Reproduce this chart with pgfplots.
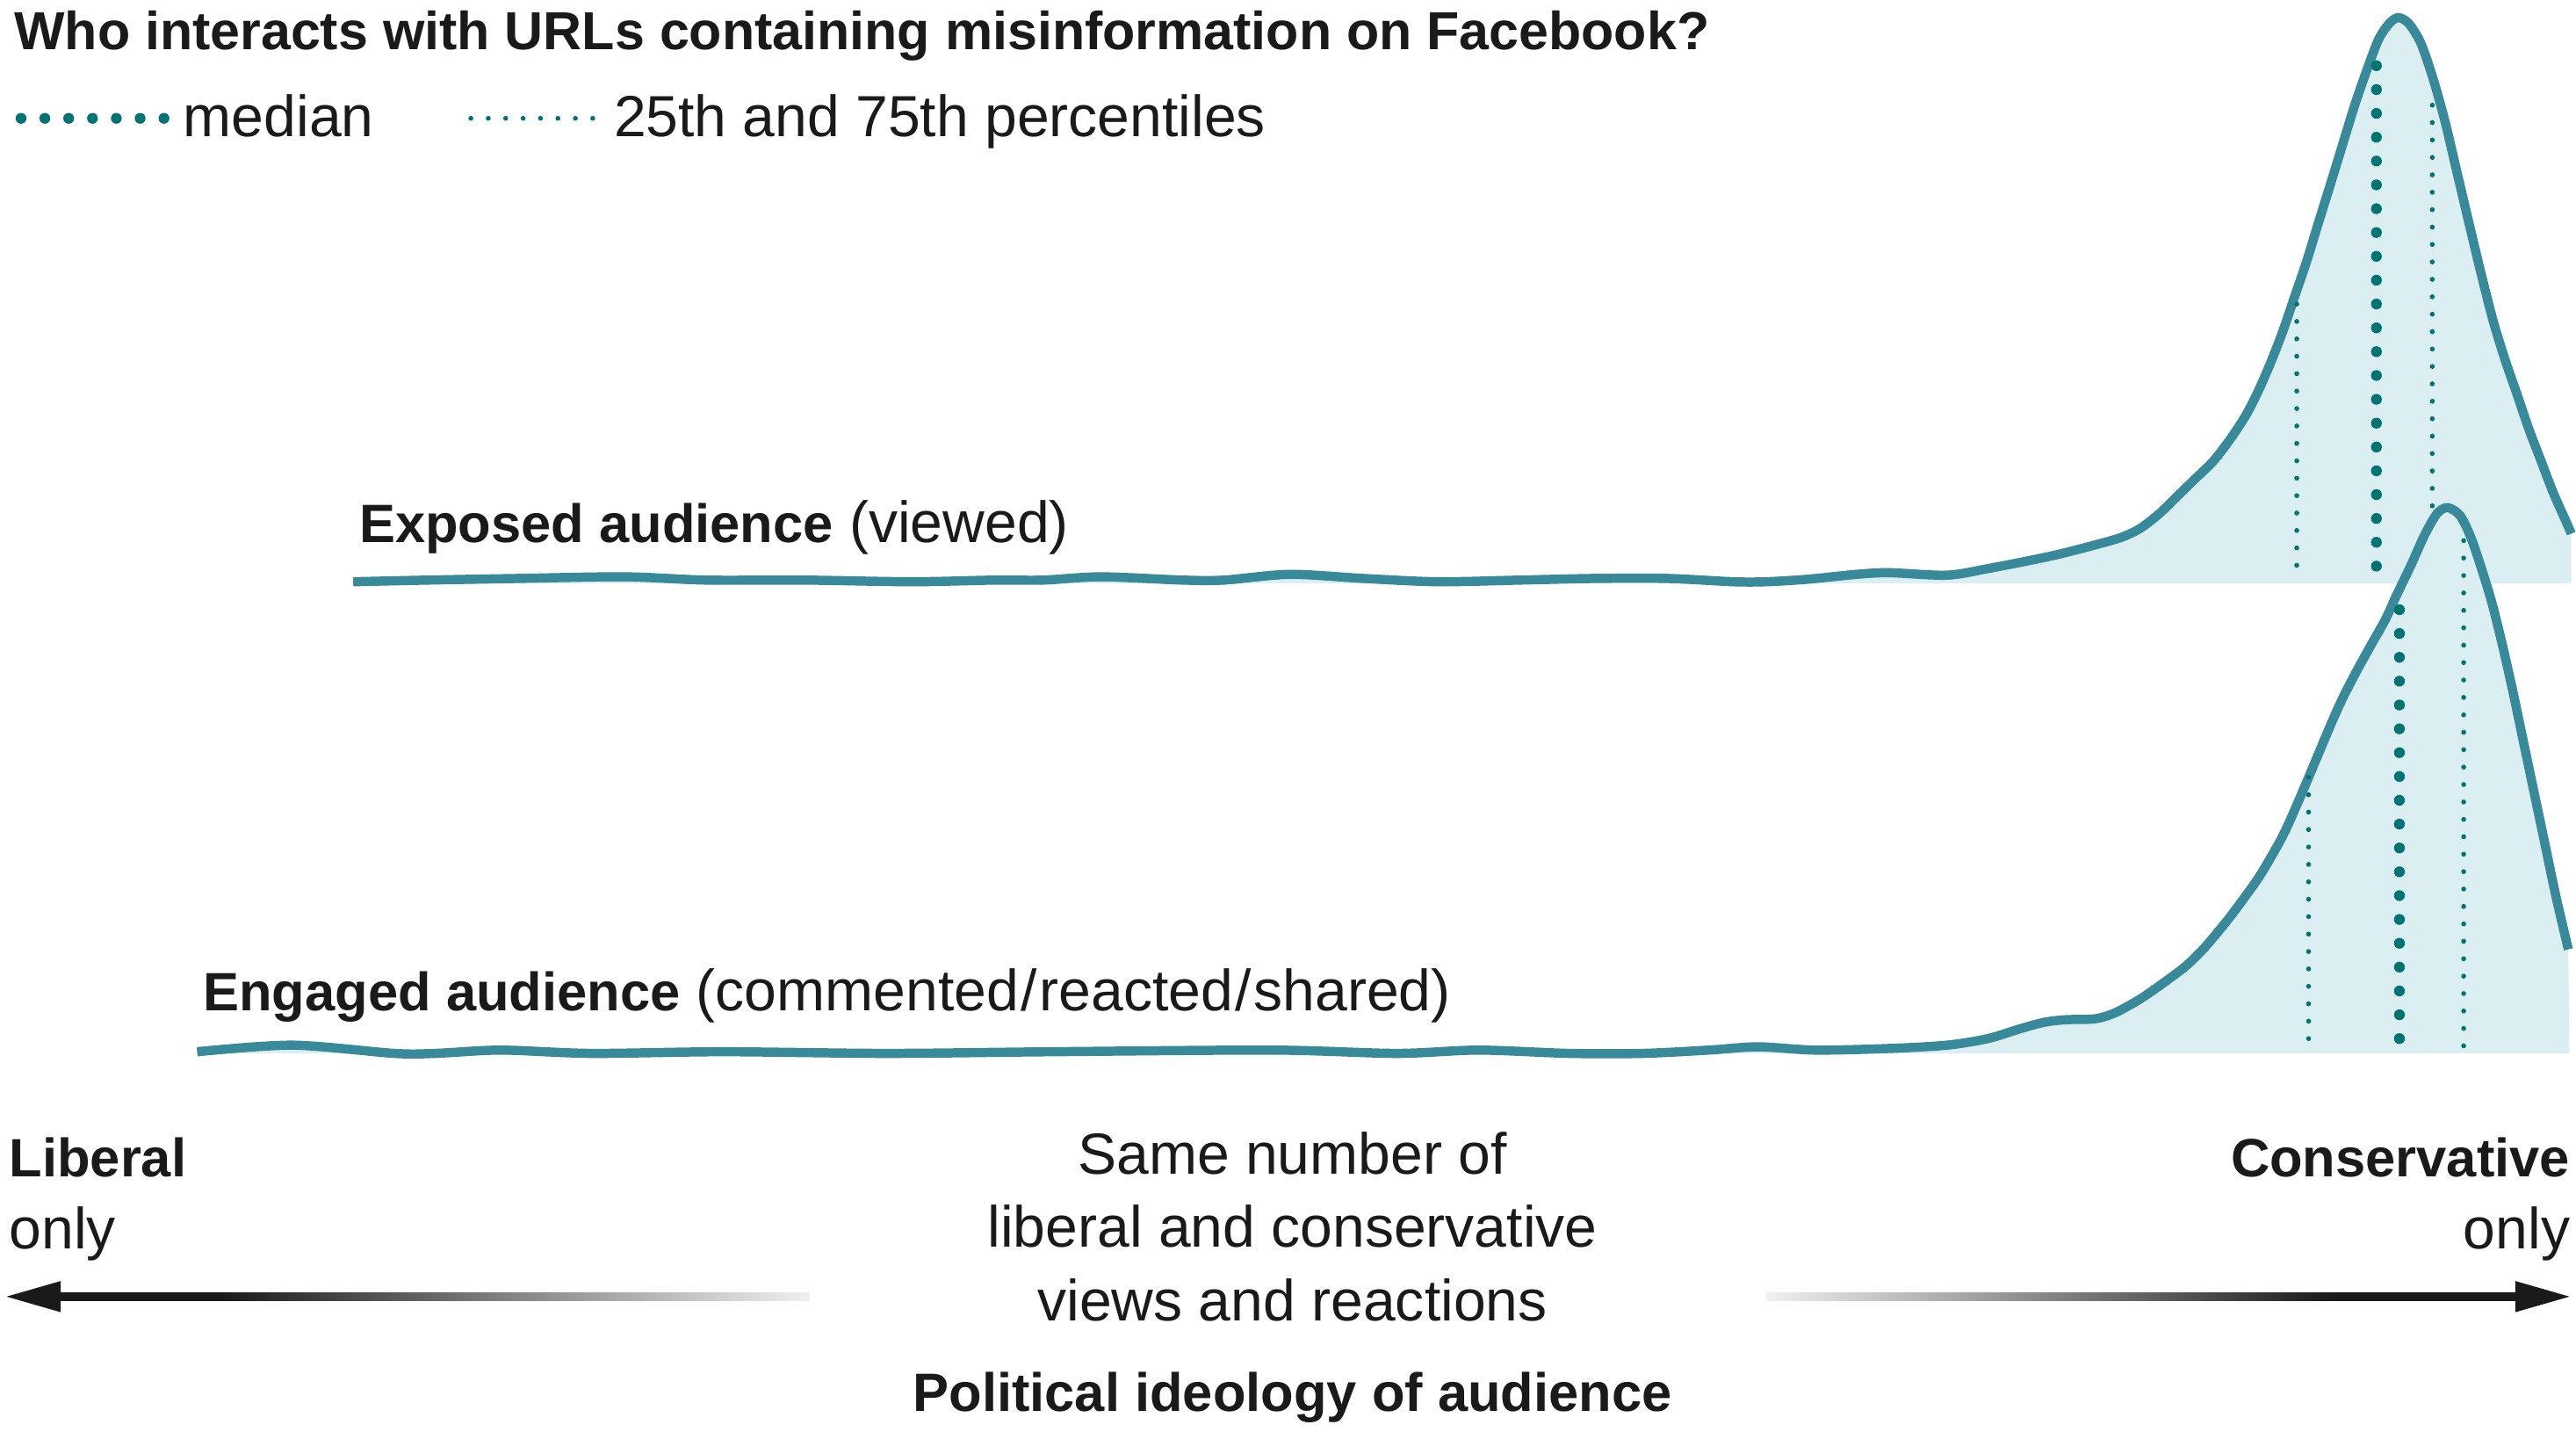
\documentclass[border=0pt]{standalone}
\usepackage{pgfplots}
\pgfplotsset{compat=1.18}
\usepackage{pgfplotstable}
\usepackage{fontspec}
\setmainfont{Liberation Sans}
\definecolor{curve}{RGB}{56,137,154}
\definecolor{dotc}{RGB}{0,115,115}
\definecolor{fillc}{RGB}{219,239,242}
\definecolor{txt}{RGB}{26,26,26}
\definecolor{fade}{RGB}{240,240,240}
\pgfdeclarehorizontalshading{arrowL}{100bp}{color(0bp)=(txt); color(35.8bp)=(txt); color(75bp)=(fade); color(100bp)=(fade)}
\pgfdeclarehorizontalshading{arrowR}{100bp}{color(0bp)=(fade); color(25bp)=(fade); color(62.7bp)=(txt); color(100bp)=(txt)}

\pgfplotstableread{
x y
215 354
260 353
315 352
380 351
430 353
490 353
555 354
605 353
635 353
670 351
720 353
745 353
785 349.5
830 352
875 354
925 353
970 352
1015 352
1055 354
1075 354
1100 352.5
1130 349.5
1150 348.5
1185 350
1210 346
1250 338
1283 329.5
1294 325.9
1303.2 321.2
1314.1 312.8
1325.1 302.1
1336.1 291.4
1347.1 280.7
1358.1 266.4
1367.3 252.2
1374.6 237.9
1381.9 221.2
1389.3 202.2
1396.6 180.8
1403.9 159.4
1411.2 135.6
1418.6 111.8
1425.9 88.0
1433.2 64.2
1440.6 42.8
1447.9 23.8
1454.3 14.3
1459.8 10.7
1466.2 14.3
1473.5 26.2
1480.9 47.6
1488.2 73.7
1495.5 104.7
1502.8 135.6
1510.2 166.5
1517.5 195.1
1524.8 218.9
1532.2 240.3
1539.5 261.7
1546.8 280.7
1554.1 299.8
1561.5 316.4
1565.1 324.7
}\exposed

\pgfplotstableread{
x y
120 640
178 636
240 641
265 641
305 639
360 641
440 640
540 641
640 640
775 639
850 641
900 639
955 641
1000 641
1040 639
1070 637
1105 639
1150 638
1185 636
1210 632
1229.6 626
1244.7 622
1257.7 620.5
1275.0 620
1285.8 617
1294.4 612.7
1305.2 606.3
1320.3 595.6
1331.1 587.3
1341.9 576.6
1354.9 561.1
1365.7 546.8
1376.5 531.4
1389.4 508.8
1398.1 489.7
1406.7 469.5
1413.2 454.0
1419.7 438.6
1426.2 424.3
1434.8 407.7
1443.4 392.2
1452.1 376.7
1458.6 362.5
1467.2 344.6
1475.8 325.6
1483.4 312.5
1489.9 308.9
1497.4 313.7
1503.9 326.8
1510.4 345.8
1516.9 367.2
1523.4 393.4
1529.8 421.9
1536.3 452.9
1542.8 483.8
1549.3 514.7
1555.8 545.6
1563.3 577.7
}\engaged

\newcommand{\bfs}{\fontsize{9.35}{11}\bfseries\selectfont}
\newcommand{\rgs}{\fontsize{10.05}{12}\mdseries\selectfont}

\begin{document}
\begin{tikzpicture}
\begin{axis}[
  width=15.68cm, height=8.71cm, scale only axis,
  xmin=0, xmax=1568, ymin=0, ymax=871, y dir=reverse,
  hide axis, clip=false,
  median/.style={dotc, line width=0.66mm, line cap=round, dash pattern=on 0pt off 1.45mm},
  pct/.style={dotc, line width=0.3mm, line cap=round, dash pattern=on 0pt off 1.06mm},
]
\path (axis cs:0,0) rectangle (axis cs:1568,871);

% exposed audience
\addplot[fill=fillc, draw=none, smooth] table {\exposed} -- (axis cs:1565.1,355) -- (axis cs:215,355) -- cycle;
\addplot[curve, line width=0.56mm, smooth] table {\exposed};
\addplot[pct] coordinates {(1398,185) (1398,351)};
\addplot[median] coordinates {(1446.5,40) (1446.5,349)};
\addplot[pct] coordinates {(1480.5,64) (1480.5,351)};

% engaged audience
\addplot[fill=fillc, draw=none, smooth] table {\engaged} -- (axis cs:1564,641) -- (axis cs:120,641) -- cycle;
\addplot[curve, line width=0.56mm, smooth] table {\engaged};
\addplot[pct] coordinates {(1405.2,473) (1405.2,637)};
\addplot[median] coordinates {(1460.5,371) (1460.5,636)};
\addplot[pct] coordinates {(1499.6,329) (1499.6,637)};

% legend samples
\addplot[median] coordinates {(12.8,72) (99.8,72)};
\addplot[pct] coordinates {(286.6,72) (360.8,72)};

% texts
\node[anchor=base west, inner sep=0pt, txt] at (axis cs:8,30) {\fontsize{9.27}{11}\bfseries\selectfont Who interacts with URLs containing misinformation on Facebook?};
\node[anchor=base west, inner sep=0pt, txt] at (axis cs:111,83) {\rgs median};
\node[anchor=base west, inner sep=0pt, txt] at (axis cs:373,83) {\rgs 25th and 75th percentiles};
\node[anchor=base west, inner sep=0pt, txt] at (axis cs:218,330) {{\bfs Exposed audience}\rgs\ (viewed)};
\node[anchor=base west, inner sep=0pt, txt] at (axis cs:123,615) {{\bfs Engaged audience}\rgs\ (commented{\kern0.4pt/\kern0.4pt}reacted{\kern0.4pt/\kern0.4pt}shared)};

\node[anchor=base west, inner sep=0pt, txt] at (axis cs:5,716) {\bfs Liberal};
\node[anchor=base west, inner sep=0pt, txt] at (axis cs:5,760) {\rgs only};
\node[anchor=base east, inner sep=0pt, txt] at (axis cs:1565,716) {\bfs Conservative};
\node[anchor=base east, inner sep=0pt, txt] at (axis cs:1565,760) {\rgs only};
\node[anchor=base, inner sep=0pt, txt] at (axis cs:786.7,714.6) {\rgs Same number of};
\node[anchor=base, inner sep=0pt, txt] at (axis cs:786.7,759) {\rgs liberal and conservative};
\node[anchor=base, inner sep=0pt, txt] at (axis cs:786.7,803.6) {\rgs views and reactions};
\node[anchor=base, inner sep=0pt, txt] at (axis cs:786.7,859) {\bfs Political ideology of audience};

% arrows
\fill[txt] (axis cs:4,789) -- (axis cs:37,779.5) -- (axis cs:37,798.5) -- cycle;
\shade[shading=arrowL] (axis cs:36,786.6) rectangle (axis cs:493,791.4);
\fill[txt] (axis cs:1564,789) -- (axis cs:1531,779.5) -- (axis cs:1531,798.5) -- cycle;
\shade[shading=arrowR] (axis cs:1075,786.6) rectangle (axis cs:1532,791.4);
\end{axis}
\end{tikzpicture}
\end{document}
